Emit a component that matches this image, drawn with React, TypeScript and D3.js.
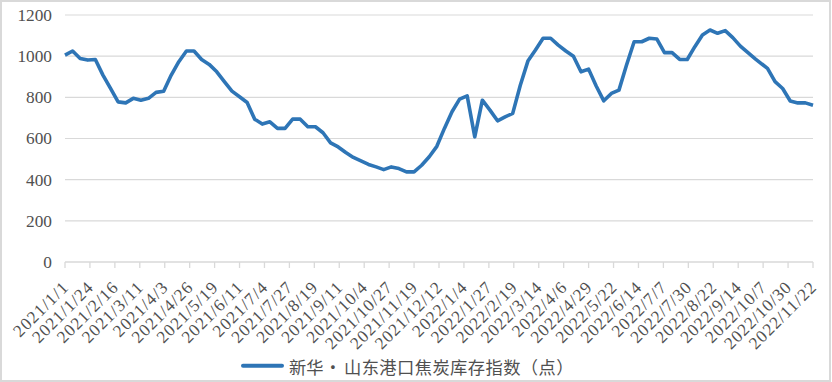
import React from "react";
import * as d3 from "d3";

const dates: string[] = [
  "2021-01-01","2021-01-08","2021-01-15","2021-01-22","2021-01-29",
  "2021-02-05","2021-02-12","2021-02-19","2021-02-26",
  "2021-03-05","2021-03-12","2021-03-19","2021-03-26",
  "2021-04-02","2021-04-09","2021-04-16","2021-04-23","2021-04-30",
  "2021-05-07","2021-05-14","2021-05-21","2021-05-28",
  "2021-06-04","2021-06-11","2021-06-18","2021-06-25",
  "2021-07-02","2021-07-09","2021-07-16","2021-07-23","2021-07-30",
  "2021-08-06","2021-08-13","2021-08-20","2021-08-27",
  "2021-09-03","2021-09-10","2021-09-17","2021-09-24",
  "2021-10-01","2021-10-08","2021-10-15","2021-10-22","2021-10-29",
  "2021-11-05","2021-11-12","2021-11-19","2021-11-26",
  "2021-12-03","2021-12-10","2021-12-17","2021-12-24","2021-12-31",
  "2022-01-07","2022-01-14","2022-01-21","2022-01-28",
  "2022-02-04","2022-02-11","2022-02-18","2022-02-25",
  "2022-03-04","2022-03-11","2022-03-18","2022-03-25",
  "2022-04-01","2022-04-08","2022-04-15","2022-04-22","2022-04-29",
  "2022-05-06","2022-05-13","2022-05-20","2022-05-27",
  "2022-06-03","2022-06-10","2022-06-17","2022-06-24",
  "2022-07-01","2022-07-08","2022-07-15","2022-07-22","2022-07-29",
  "2022-08-05","2022-08-12","2022-08-19","2022-08-26",
  "2022-09-02","2022-09-09","2022-09-16","2022-09-23","2022-09-30",
  "2022-10-07","2022-10-11","2022-10-18","2022-10-25",
  "2022-11-01","2022-11-08","2022-11-15","2022-11-22",
];

const values: number[] = [
  1005, 1025, 989, 981, 984,
  908, 843, 778, 773,
  795, 786, 795, 824,
  830, 908, 973, 1025, 1025,
  984, 960, 924, 876,
  830, 803, 775, 694,
  670, 681, 649, 649, 694,
  694, 657, 657, 628,
  579, 559, 532, 508,
  491, 474, 462, 449, 462,
  454, 438, 438, 470,
  511, 562, 649, 730, 791,
  807, 608, 786, 738,
  686, 705, 722, 859,
  976, 1030, 1087, 1087,
  1054, 1025, 1000, 924, 937,
  855, 783, 819, 835,
  957, 1070, 1070, 1087,
  1083, 1017, 1017, 984, 984,
  1046, 1103, 1127, 1111,
  1124, 1090, 1049, 1017, 986,
  957, 941, 876, 843,
  782, 773, 773, 762,
];

const xTickLabels: string[] = [
  "2021/1/1","2021/1/24","2021/2/16","2021/3/11","2021/4/3","2021/4/26",
  "2021/5/19","2021/6/11","2021/7/4","2021/7/27","2021/8/19","2021/9/11",
  "2021/10/4","2021/10/27","2021/11/19","2021/12/12",
  "2022/1/4","2022/1/27","2022/2/19","2022/3/14","2022/4/6","2022/4/29",
  "2022/5/22","2022/6/14","2022/7/7","2022/7/30","2022/8/22","2022/9/14",
  "2022/10/7","2022/10/30","2022/11/22",
];

const yTicks: number[] = [0, 200, 400, 600, 800, 1000, 1200];

const seriesName = "新华•山东港口焦炭库存指数（点）";

const W = 832;
const H = 382;
const left = 65;
const right = 813;
const top = 15;
const bottom = 262;
const BLUE = "#2e75b6";
const GRID = "#d9d9d9";
const TEXT = "#505050";
const FS = 17.3;
const SERIF = "'Liberation Serif', 'Times New Roman', serif";
const CJK = "'Noto Sans CJK SC', 'Noto Sans', sans-serif";

const parseDash = d3.utcParse("%Y-%m-%d");
const parseSlash = d3.utcParse("%Y/%m/%d");

export default function App() {
  const data = dates.map((d, i) => ({ date: parseDash(d) as Date, value: values[i] }));
  const tickDates = xTickLabels.map((s) => parseSlash(s) as Date);

  const x = d3
    .scaleUtc()
    .domain([tickDates[0], tickDates[tickDates.length - 1]])
    .range([left, right]);
  const y = d3.scaleLinear().domain([0, 1200]).range([bottom, top]);

  const line = d3
    .line<{ date: Date; value: number }>()
    .x((d) => x(d.date))
    .y((d) => y(d.value));

  const legendParts = seriesName.split("•");

  return (
    <svg
      width={W}
      height={H}
      style={{ position: "absolute", left: 0, top: 0, display: "block" }}
      xmlns="http://www.w3.org/2000/svg"
    >
      <rect x={1} y={1} width={829} height={380} fill="#ffffff" stroke={GRID} strokeWidth={2} />
      {yTicks
        .filter((t) => t > 0)
        .map((t) => (
          <line key={"g" + t} x1={left} x2={right} y1={y(t)} y2={y(t)} stroke={GRID} strokeWidth={1.2} />
        ))}
      <line x1={left} x2={right} y1={y(0)} y2={y(0)} stroke={GRID} strokeWidth={1.3} />
      {tickDates.map((d, i) => (
        <line key={"t" + i} x1={x(d)} x2={x(d)} y1={y(0)} y2={y(0) + 6} stroke={GRID} strokeWidth={1.3} />
      ))}
      {yTicks.map((t) => (
        <text
          key={"y" + t}
          x={52}
          y={y(t)}
          dy="0.34em"
          textAnchor="end"
          fontFamily={SERIF}
          fontSize={FS}
          fill={TEXT}
          textLength={String(t).length * FS * 0.5}
          lengthAdjust="spacing"
        >
          {t}
        </text>
      ))}
      {tickDates.map((d, i) => (
        <text
          key={"x" + i}
          transform={`translate(${x(d) + 4},${289}) rotate(-45)`}
          textAnchor="end"
          fontFamily={SERIF}
          fontSize={FS}
          fill={TEXT}
          textLength={xTickLabels[i].length * FS * 0.5}
          lengthAdjust="spacing"
        >
          {xTickLabels[i]}
        </text>
      ))}
      <path
        d={line(data) || ""}
        fill="none"
        stroke={BLUE}
        strokeWidth={3.6}
        strokeLinejoin="round"
        strokeLinecap="butt"
      />
      <line x1={243} x2={282} y1={365.7} y2={365.7} stroke={BLUE} strokeWidth={4} strokeLinecap="round" />
      <text x={289} y={366} dominantBaseline="central" fontFamily={CJK} fontSize={FS} fill={TEXT}>
        {legendParts[0]}
      </text>
      <text x={333} y={366} dominantBaseline="central" textAnchor="middle" fontFamily={CJK} fontSize={FS} fill={TEXT}>
        •
      </text>
      <text x={344} y={366} dominantBaseline="central" fontFamily={CJK} fontSize={FS} fill={TEXT} letterSpacing={0.4}>
        {legendParts[1]}
      </text>
    </svg>
  );
}
